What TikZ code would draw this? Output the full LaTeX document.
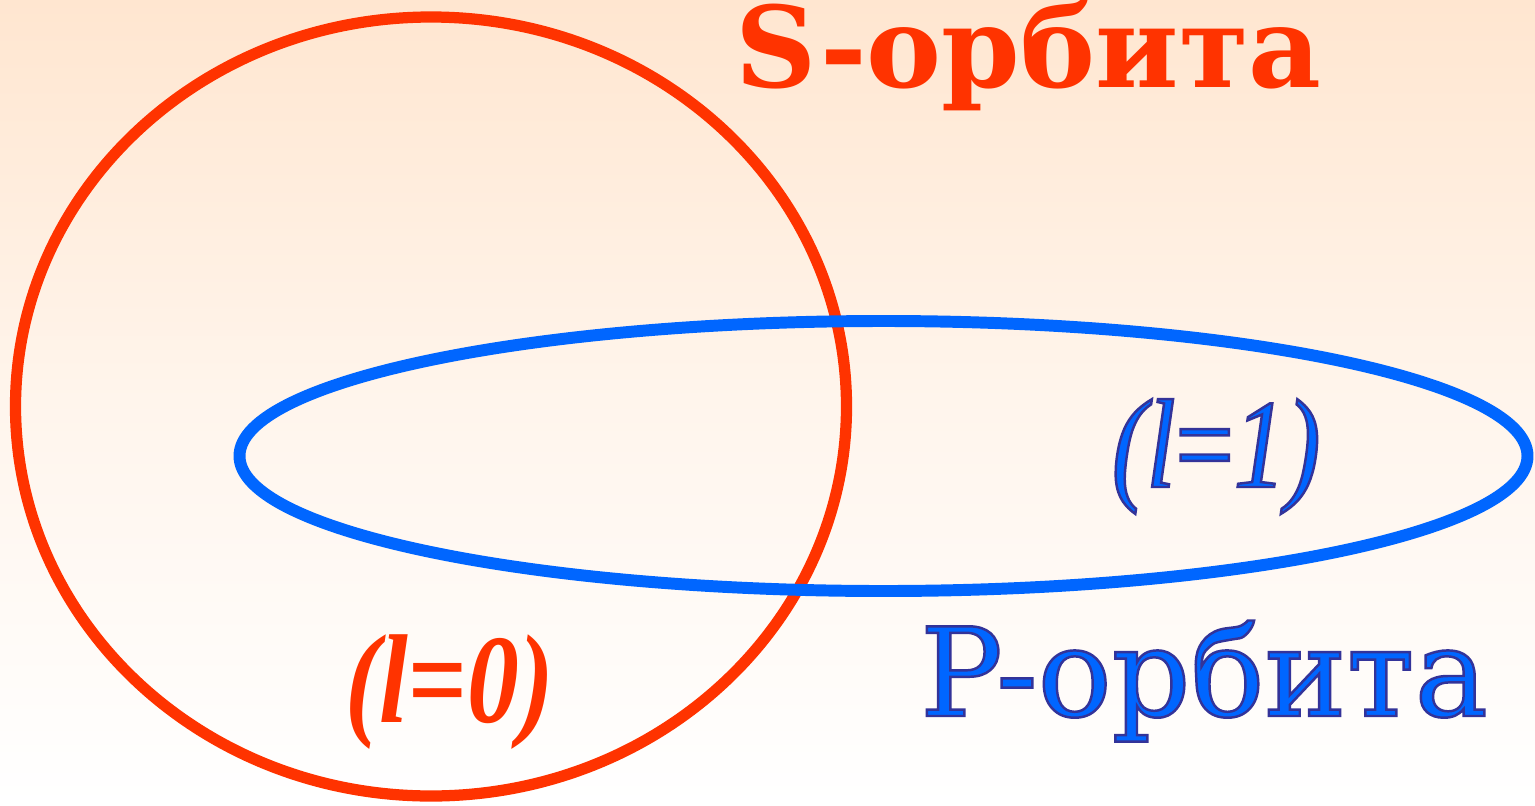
\documentclass[tikz,border=0pt]{standalone}
\usepackage{fontspec}
\setmainfont{Liberation Serif}
\newfontfamily\orbfont{DejaVu Serif}
\newfontfamily\lfont{Liberation Serif}[FakeStretch=0.82]
\usepackage{xcolor}
\usepackage{tikz}
\usetikzlibrary{positioning}

\definecolor{sred}{RGB}{255,51,0}
\definecolor{pblue}{RGB}{0,102,255}
\definecolor{bgtop}{RGB}{255,230,208}

% blue letters with a dark rim
\newcommand\rimtext[1]{\special{pdf:literal 2 Tr 0.7 w 0.2 0.2 0.6 RG}#1\special{pdf:literal 0 Tr}}

\begin{document}
\begin{tikzpicture}[every node/.style={inner sep=0pt, outer sep=0pt}]
  \shade[top color=bgtop, bottom color=white, middle color=bgtop!40] (0,0) rectangle (15.35,-8.05);
  \useasboundingbox (0,0) rectangle (15.35,-8.05);
  \draw[sred, line width=3.2pt] (4.31,-4.065) ellipse [x radius=4.155, y radius=3.895];
  \draw[pblue, line width=3.4pt] (8.835,-4.56) ellipse [x radius=6.44, y radius=1.35];
  \node[anchor=base west, text=sred, font=\orbfont\fontsize{32}{38}\selectfont\bfseries] (sorb) at (7.35,-0.87) {S-орбита};
  \node[anchor=base west, text=pblue, font=\orbfont\fontsize{35}{40}\selectfont] (porb) at (9.2,-7.16) {\rimtext{P-орбита}};
  \node[anchor=base west, text=pblue, font=\lfont\fontsize{36}{40}\selectfont] (lone) at (11.12,-4.87) {\rimtext{\textit{(l}=\textit{1)}}};
  \node[anchor=base west, text=sred, font=\lfont\fontsize{36}{40}\selectfont\bfseries] (lzero) at (3.45,-7.22) {\textit{(l}=\textit{0)}};
\end{tikzpicture}
\end{document}
